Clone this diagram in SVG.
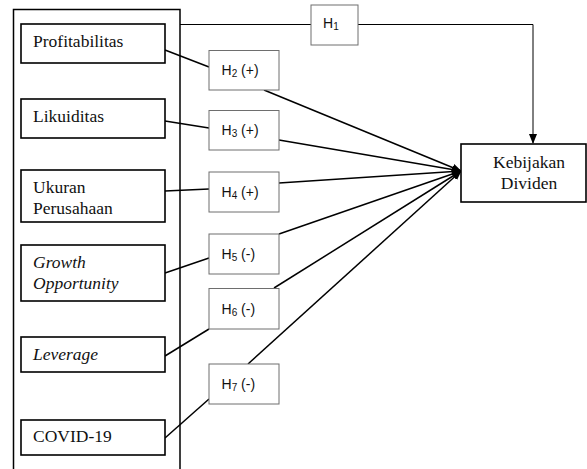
<svg xmlns="http://www.w3.org/2000/svg" width="587" height="469" viewBox="0 0 587 469">
<style>
.var{fill:#fff;stroke:#000;stroke-width:1.6}
.hyp{fill:#fff;stroke:#6e6e6e;stroke-width:1}
.st{font-family:"Liberation Serif","Times New Roman",serif;font-size:17.5px;fill:#111}
.hs{font-family:"Liberation Sans",Arial,sans-serif;font-size:14px;fill:#111}
.ln{fill:none;stroke:#000;stroke-width:1.5}
.thin{fill:none;stroke:#000;stroke-width:1}
</style>
<defs>
<marker id="ah" markerWidth="10" markerHeight="10" refX="9" refY="5" orient="auto" markerUnits="userSpaceOnUse">
<path d="M0,1 L10,5 L0,9 Z" fill="#000"/>
</marker>
<marker id="ah2" markerWidth="10" markerHeight="10" refX="5" refY="9" orient="0" markerUnits="userSpaceOnUse">
<path d="M1,0 L9,0 L5,10 Z" fill="#000"/>
</marker>
</defs>
<g id="outer"><path d="M13.5,471 V9.5 H180 V471" class="ln"/></g>
<g id="connectors">
<polyline class="thin" points="180,24.5 311,24.5"/>
<polyline class="thin" points="358,24.5 533,24.5 533,143" marker-end="url(#ah2)"/>
<line class="ln" x1="165" y1="50" x2="209" y2="67"/>
<line class="ln" x1="264" y1="90" x2="461" y2="171" marker-end="url(#ah)"/>
<line class="ln" x1="165" y1="121" x2="209" y2="128"/>
<line class="ln" x1="279" y1="140" x2="461" y2="171" marker-end="url(#ah)"/>
<line class="ln" x1="165" y1="191" x2="209" y2="189"/>
<line class="ln" x1="279" y1="183" x2="461" y2="171" marker-end="url(#ah)"/>
<line class="ln" x1="165" y1="273" x2="209" y2="258"/>
<line class="ln" x1="279" y1="234" x2="461" y2="171" marker-end="url(#ah)"/>
<line class="ln" x1="165" y1="356" x2="209" y2="329"/>
<line class="ln" x1="274" y1="288" x2="461" y2="171" marker-end="url(#ah)"/>
<line class="ln" x1="165" y1="438" x2="209" y2="399"/>
<line class="ln" x1="248" y1="364" x2="461" y2="171" marker-end="url(#ah)"/>
</g>
<g id="profitabilitas"><rect class="var" x="21" y="24" width="144" height="39"/><text class="st" x="33" y="47">Profitabilitas</text></g>
<g id="likuiditas"><rect class="var" x="21" y="99" width="144" height="39"/><text class="st" x="33" y="122">Likuiditas</text></g>
<g id="ukuran"><rect class="var" x="21" y="170" width="144" height="52"/><text class="st" x="33" y="193">Ukuran</text><text class="st" x="33" y="214">Perusahaan</text></g>
<g id="growth"><rect class="var" x="21" y="245" width="144" height="56"/><text class="st" x="33" y="267.5" font-style="italic">Growth</text><text class="st" x="33" y="288.5" font-style="italic">Opportunity</text></g>
<g id="leverage"><rect class="var" x="21" y="337" width="144" height="35"/><text class="st" x="33" y="360" font-style="italic">Leverage</text></g>
<g id="covid"><rect class="var" x="21" y="420" width="144" height="35"/><text class="st" x="33" y="442">COVID-19</text></g>
<g id="kebijakan"><rect class="var" x="461" y="144" width="125" height="58"/><text class="st" x="529" y="167.5" text-anchor="middle">Kebijakan</text><text class="st" x="529" y="189" text-anchor="middle">Dividen</text></g>
<g id="h1"><rect class="hyp" x="311" y="5" width="47" height="40"/><text class="hs" x="323" y="28">H<tspan font-size="10" dy="2">1</tspan></text></g>
<g id="h2"><rect class="hyp" x="209" y="50.5" width="70" height="39.5"/><text class="hs" x="221.5" y="75">H<tspan font-size="10" dy="2">2</tspan><tspan dy="-2"> (+)</tspan></text></g>
<g id="h3"><rect class="hyp" x="209" y="110.5" width="70" height="39.5"/><text class="hs" x="221.5" y="135">H<tspan font-size="10" dy="2">3</tspan><tspan dy="-2"> (+)</tspan></text></g>
<g id="h4"><rect class="hyp" x="209" y="172" width="70" height="40"/><text class="hs" x="221.5" y="197">H<tspan font-size="10" dy="2">4</tspan><tspan dy="-2"> (+)</tspan></text></g>
<g id="h5"><rect class="hyp" x="209" y="234" width="70" height="40"/><text class="hs" x="221.5" y="259">H<tspan font-size="10" dy="2">5</tspan><tspan dy="-2"> (-)</tspan></text></g>
<g id="h6"><rect class="hyp" x="209" y="288.5" width="70" height="40.5"/><text class="hs" x="221.5" y="313.5">H<tspan font-size="10" dy="2">6</tspan><tspan dy="-2"> (-)</tspan></text></g>
<g id="h7"><rect class="hyp" x="209" y="364" width="70" height="40"/><text class="hs" x="221.5" y="389">H<tspan font-size="10" dy="2">7</tspan><tspan dy="-2"> (-)</tspan></text></g>
</svg>
